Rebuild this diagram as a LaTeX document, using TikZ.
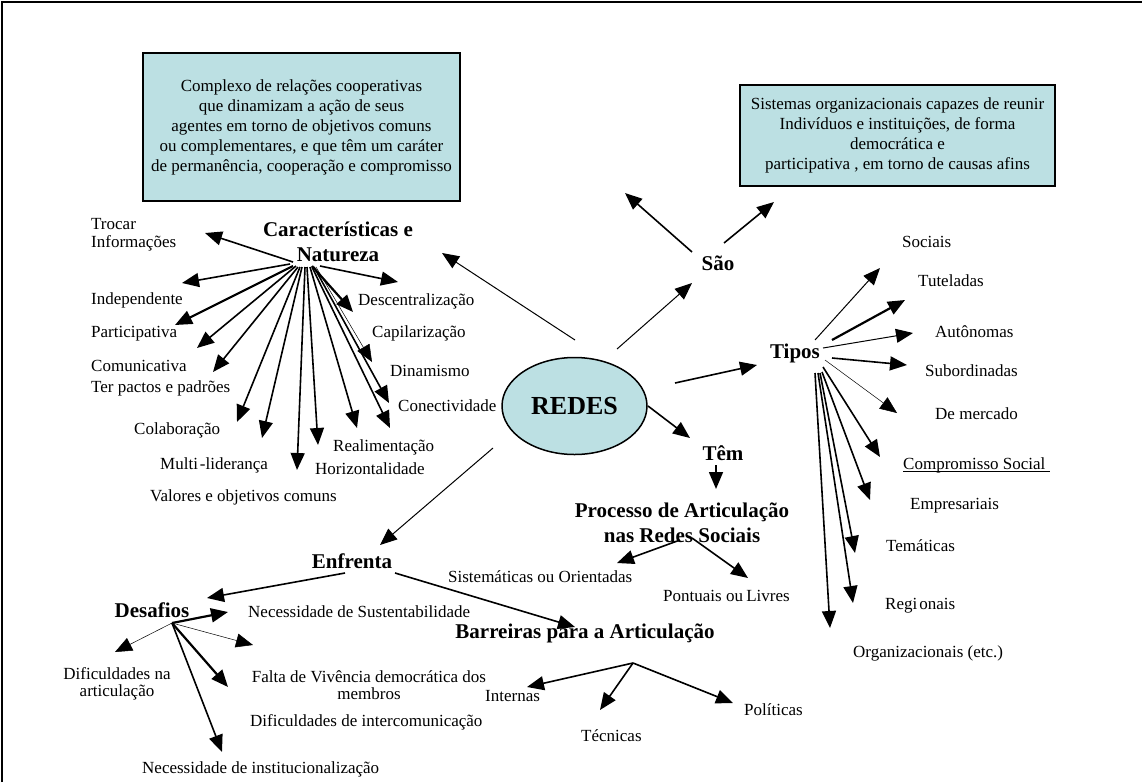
\documentclass[tikz,border=0pt]{standalone}
\usepackage{fontspec}
\setmainfont{Liberation Serif}
\usetikzlibrary{arrows.meta,calc,shapes.geometric}
\definecolor{pale}{HTML}{BCE0E3}
\begin{document}
\begin{tikzpicture}[x=1pt,y=-1pt,
  lbl/.style={anchor=west,inner sep=0pt,font=\fontsize{17}{20}\selectfont,text height=12pt,text depth=4pt},
  clbl/.style={anchor=center,inner sep=0pt,font=\fontsize{17}{17}\selectfont,align=center},
  head/.style={anchor=center,inner sep=0pt,font=\fontsize{21}{25}\selectfont\bfseries,align=center},
  boxtxt/.style={draw=black,line width=1.2pt,fill=pale,align=center,inner sep=0pt,font=\fontsize{17}{20}\selectfont},
  arr/.style={-{Triangle[length=17pt,width=14pt]},line width=1.6pt},
  thk/.style={-{Triangle[length=17pt,width=14pt]},line width=2.2pt},
  thn/.style={-{Triangle[length=17pt,width=14pt]},line width=0.5pt},
  mid/.style={-{Triangle[length=17pt,width=14pt]},line width=1pt}
]
\useasboundingbox (0,0) rectangle (1142,782);
% frame
\draw[line width=1.5pt] (2,782) -- (2,2) -- (1142,2);

% boxes
\node[boxtxt,minimum width=317pt,minimum height=148pt] (box1) at (301.5,127)
 {Complexo de relações cooperativas\\ que dinamizam a ação de seus\\agentes em torno de objetivos comuns\\ou complementares, e que têm um caráter\\de permanência, cooperação e compromisso};
\node[boxtxt,minimum width=315pt,minimum height=101pt] (box2) at (897.5,135.5)
 {Sistemas organizacionais capazes de reunir\\Indivíduos e instituições, de forma\\democrática e\\participativa , em torno de causas afins};

% central ellipse
\node[ellipse,draw,line width=1.5pt,fill=pale,minimum width=145pt,minimum height=97pt,inner sep=0pt,
  font=\fontsize{26}{28}\selectfont\bfseries] (redes) at (574.5,406) {REDES};

% heads
\node[head] (car) at (338,242) {Características e\\Natureza};
\node[head] (sao) at (718,263) {São};
\node[head] (tipos) at (795,353) {Tipos};
\node[head] (tem) at (723,453) {Têm};
\node[head] (proc) at (682,523) {Processo de Articulação\\nas Redes Sociais};
\node[head] (enf) at (352,561) {Enfrenta};
\node[head] (des) at (152,610) {Desafios};
\node[head] (bar) at (585,633) {Barreiras para a Articulação};

% left labels
\node[clbl,anchor=west,align=left] (l1) at (91,235) {Trocar\\[1pt]Informações};
\node[lbl] (l2) at (91,300) {Independente};
\node[lbl] (l3) at (91,333) {Participativa};
\node[lbl] (l4) at (91,367) {Comunicativa};
\node[lbl] (l5) at (91,388) {Ter pactos e padrões};
\node[lbl] (l6) at (134,430) {Colaboração};
\node[lbl] (l7) at (160,465) {Multi\kern2pt-liderança};
\node[lbl] (l8) at (150,497) {Valores e objetivos comuns};
\node[lbl] (l9) at (315,470) {Horizontalidade};
\node[lbl] (l10) at (333,447) {Realimentação};
\node[lbl] (l11) at (398,407) {Conectividade};
\node[lbl] (l12) at (390,372) {Dinamismo};
\node[lbl] (l13) at (372,333) {Capilarização};
\node[lbl] (l14) at (358,301) {Descentralização};

% tipos labels
\node[lbl] (t1) at (902,243) {Sociais};
\node[lbl] (t2) at (918,282) {Tuteladas};
\node[lbl] (t3) at (935,333) {Autônomas};
\node[lbl] (t4) at (925,372) {Subordinadas};
\node[lbl] (t5) at (935,415) {De mercado};
\node[lbl] (t6) at (903,465) {Compromisso Social};
\draw[line width=1.6pt] ([yshift=-2.5pt]t6.base west) -- ([yshift=-2.5pt,xshift=4pt]t6.base east);
\node[lbl] (t7) at (910,505) {Empresariais};
\node[lbl] (t8) at (886,547) {Temáticas};
\node[lbl] (t9) at (885,605) {Regi\kern2pt onais};
\node[lbl] (t10) at (853,653) {Organizacionais (etc.)};

% processo labels
\node[lbl] (p1) at (448,578) {Sistemáticas ou Orientadas};
\node[lbl] (p2) at (663,597) {Pontuais ou\kern-1pt\ Livres};

% barreiras labels
\node[lbl] (b1) at (485,697) {Internas};
\node[lbl] (b2) at (581,737) {Técnicas};
\node[lbl] (b3) at (744,711) {Políticas};

% desafios labels
\node[lbl] (d1) at (248,613) {Necessidade de Sustentabilidade};
\node[clbl] (d2) at (117,684) {Dificuldades na\\articulação};
\node[clbl] (d3) at (369,685) {Falta de Vivência democrática dos\\membros};
\node[lbl] (d4) at (250,722) {Dificuldades de intercomunicação};
\node[lbl] (d5) at (142,769) {Necessidade de institucionalização};

% ---------- connectors ----------
% left cluster
\coordinate (chub) at (300,265);
\coordinate (ca) at (205,233);
\coordinate (cb) at (182,283);
\coordinate (cc) at (175,325);
\coordinate (cd) at (197,348);
\coordinate (ce) at (213,372);
\coordinate (cf) at (237,422);
\coordinate (cg) at (262,438);
\coordinate (ch) at (297,470);
\coordinate (ci) at (318,445);
\coordinate (cj) at (357,428);
\coordinate (ck) at (390,428);
\coordinate (cl) at (389,403);
\coordinate (cm) at (372,362);
\coordinate (cn) at (353,312);
\coordinate (co) at (398,282);
\draw[arr] ($(chub)+(-7,-3)$) -- (ca);
\draw[arr] ($(chub)+(-10,-1)$) -- (cb);
\draw[thk] ($(chub)+(-7,1)$) -- (cc);
\draw[arr] ($(chub)+(-4,1)$) -- (cd);
\draw[arr] ($(chub)+(-2,2)$) -- (ce);
\draw[arr] ($(chub)+(0,2)$) -- (cf);
\draw[arr] ($(chub)+(2,2)$) -- (cg);
\draw[arr] ($(chub)+(5,2)$) -- (ch);
\draw[arr] ($(chub)+(7,2)$) -- (ci);
\draw[arr] ($(chub)+(10,2)$) -- (cj);
\draw[arr] ($(chub)+(12,2)$) -- (ck);
\draw[arr] ($(chub)+(14,2)$) -- (cl);
\draw[thn] ($(chub)+(16,2)$) -- (cm);
\draw[thk] ($(chub)+(12,1)$) -- (cn);
\draw[arr] ($(chub)+(20,1)$) -- (co);

% from REDES
\coordinate (rc1) at (575,340);
\coordinate (rc2) at (617,349);
\coordinate (rc3) at (675,383);
\coordinate (rc4) at (648,406);
\coordinate (rc5) at (493,448);
\coordinate (tcar) at (442,253);
\coordinate (tsao) at (692,283);
\coordinate (ttip) at (757,365);
\coordinate (ttem) at (690,438);
\coordinate (tenf) at (380,545);
\draw[mid] (rc1) -- (tcar);
\draw[mid] (rc2) -- (tsao);
\draw[arr] (rc3) -- (ttip);
\draw[arr] (rc4) -- (ttem);
\draw[mid] (rc5) -- (tenf);

% from São
\coordinate (s1) at (692,252);
\coordinate (s2) at (724,243);
\coordinate (ts1) at (625,193);
\coordinate (ts2) at (774,202);
\draw[arr] (s1) -- (ts1);
\draw[arr] (s2) -- (ts2);

% from Tipos
\coordinate (thub) at (820,365);
\coordinate (ta) at (880,268);
\coordinate (tb) at (905,300);
\coordinate (tc) at (913,333);
\coordinate (td) at (907,365);
\coordinate (te) at (897,413);
\coordinate (tf) at (880,457);
\coordinate (tg) at (870,500);
\coordinate (th) at (855,553);
\coordinate (ti) at (853,603);
\coordinate (tj) at (830,628);
\draw[mid] ($(thub)+(-5,-25)$) -- (ta);
\draw[thk] ($(thub)+(12,-25)$) -- (tb);
\draw[mid] ($(thub)+(3,-17)$) -- (tc);
\draw[arr] ($(thub)+(12,-7)$) -- (td);
\draw[thn] ($(thub)+(5,-5)$) -- (te);
\draw[arr] ($(thub)+(3,2)$) -- (tf);
\draw[arr] ($(thub)+(2,7)$) -- (tg);
\draw[arr] ($(thub)+(0,8)$) -- (th);
\draw[arr] ($(thub)+(-2,8)$) -- (ti);
\draw[arr] ($(thub)+(-5,8)$) -- (tj);

% Têm -> Processo
\coordinate (tm1) at (716,465);
\coordinate (tm2) at (716,489);
\draw[arr] (tm1) -- (tm2);

% Processo
\coordinate (ph1) at (680,540);
\coordinate (ph2) at (692,538);
\coordinate (pt1) at (617,563);
\coordinate (pt2) at (748,578);
\draw[arr] (ph1) -- (pt1);
\draw[arr] (ph2) -- (pt2);

% Enfrenta
\coordinate (e1) at (395,573);
\coordinate (e2) at (345,573);
\coordinate (te1) at (575,627);
\coordinate (te2) at (207,598);
\draw[arr] (e1) -- (te1);
\draw[arr] (e2) -- (te2);

% Barreiras
\coordinate (bhub) at (633,663);
\coordinate (tb1) at (527,687);
\coordinate (tb2) at (600,710);
\coordinate (tb3) at (733,703);
\draw[arr] (bhub) -- (tb1);
\draw[arr] (bhub) -- (tb2);
\draw[arr] (bhub) -- (tb3);

% Desafios
\coordinate (dhub) at (172,623);
\coordinate (td1) at (228,612);
\coordinate (td2) at (253,645);
\coordinate (td3) at (115,652);
\coordinate (td4) at (228,687);
\coordinate (td5) at (222,752);
\draw[thk] (dhub) -- (td1);
\draw[thn] (dhub) -- (td2);
\draw[thn] (dhub) -- (td3);
\draw[thk] (dhub) -- (td4);
\draw[arr] (dhub) -- (td5);
\end{tikzpicture}
\end{document}
